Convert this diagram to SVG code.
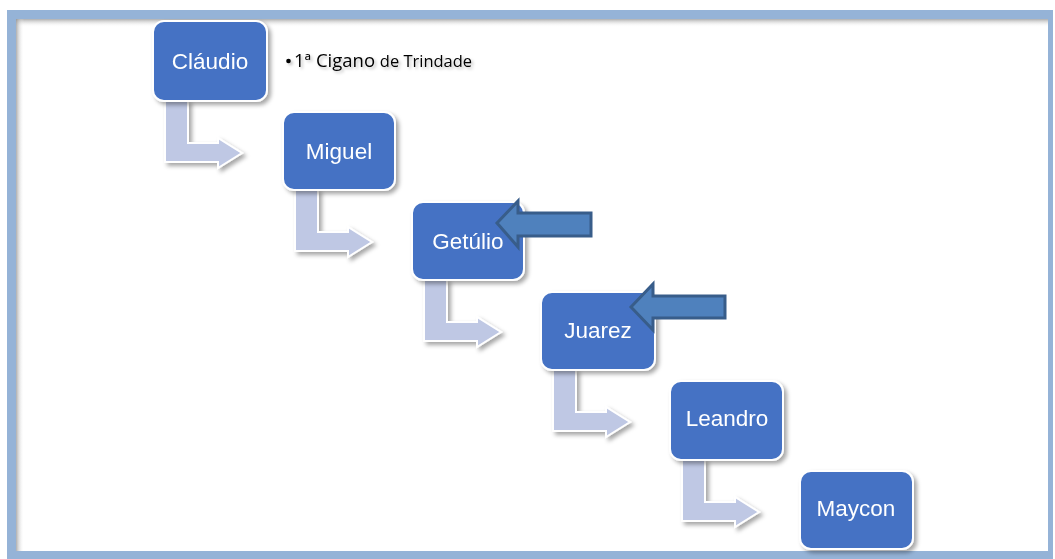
<svg xmlns="http://www.w3.org/2000/svg" width="1055" height="559" viewBox="0 0 1055 559">
<defs>
<style>
.node rect{fill:#4472c4;stroke:#ffffff;stroke-width:2}
.node text{fill:#ffffff;font-family:"Liberation Sans",Arial,sans-serif;font-size:22.5px;text-anchor:middle}
.bent{fill:#bfc8e4;stroke:#ffffff;stroke-width:2}
.left{fill:#4f81bd;stroke:#385d8a;stroke-width:3}
.note{font-family:"Open Sans","Liberation Sans",sans-serif;font-size:18px;fill:#000}
</style>
<filter id="sh" x="-20%" y="-20%" width="150%" height="150%">
<feDropShadow dx="3" dy="3" stdDeviation="2" flood-color="#000" flood-opacity="0.35"/>
</filter>
<filter id="tsh" x="-10%" y="-50%" width="120%" height="200%">
<feDropShadow dx="2" dy="2" stdDeviation="1.5" flood-color="#000" flood-opacity="0.25"/>
</filter>
<linearGradient id="gt" x1="0" y1="0" x2="0" y2="1">
<stop offset="0" stop-color="#8c8c8c" stop-opacity="0.7"/>
<stop offset="1" stop-color="#ffffff" stop-opacity="0"/>
</linearGradient>
<linearGradient id="gl" x1="0" y1="0" x2="1" y2="0">
<stop offset="0" stop-color="#8c8c8c" stop-opacity="0.7"/>
<stop offset="1" stop-color="#ffffff" stop-opacity="0"/>
</linearGradient>
<path id="bentArrow" d="M0,0 H23 V42 H53 V37 L77,52 L53,67 V61 H0 Z"/>
</defs>
<rect x="0" y="0" width="1055" height="559" fill="#ffffff"/>
<rect x="7" y="10" width="1046" height="549" fill="#95b3d7"/>
<rect x="16" y="19" width="1032" height="532" fill="#ffffff"/>
<rect x="16" y="19" width="1032" height="8" fill="url(#gt)"/>
<rect x="16" y="19" width="8" height="532" fill="url(#gl)"/>

<g id="connectors">
<g filter="url(#sh)">
<use href="#bentArrow" class="bent" x="165" y="101"/>
<use href="#bentArrow" class="bent" x="295" y="190"/>
<use href="#bentArrow" class="bent" x="424" y="280"/>
<use href="#bentArrow" class="bent" x="553" y="370"/>
<use href="#bentArrow" class="bent" x="682" y="460"/>
</g>
</g>

<g id="node-claudio" class="node" filter="url(#sh)">
<rect x="153" y="21" width="114" height="80" rx="11"/>
<text x="210" y="69">Cláudio</text>
</g>
<g id="node-miguel" class="node" filter="url(#sh)">
<rect x="283" y="112" width="112" height="78" rx="11"/>
<text x="339" y="159">Miguel</text>
</g>
<g id="node-getulio" class="node" filter="url(#sh)">
<rect x="412" y="202" width="112" height="78" rx="11"/>
<text x="468" y="249">Getúlio</text>
</g>
<g id="node-juarez" class="node" filter="url(#sh)">
<rect x="541" y="292" width="114" height="78" rx="11"/>
<text x="598" y="338">Juarez</text>
</g>
<g id="node-leandro" class="node" filter="url(#sh)">
<rect x="670" y="381" width="113" height="79" rx="11"/>
<text x="727" y="426">Leandro</text>
</g>
<g id="node-maycon" class="node" filter="url(#sh)">
<rect x="800" y="471" width="113" height="78" rx="11"/>
<text x="856" y="516">Maycon</text>
</g>

<g id="pointers">
<path class="left" d="M497,223 L518,201 V213 H591 V236 H518 V247 Z"/>
<path class="left" d="M631,307 L653,284 V296 H725 V318 H653 V330 Z"/>
</g>

<g id="note" filter="url(#tsh)">
<circle cx="288.5" cy="61" r="2.3" fill="#000"/>
<text class="note" x="294" y="67" textLength="178" lengthAdjust="spacingAndGlyphs">1ª Cigano <tspan font-size="16">de Trindade</tspan></text>
</g>
</svg>
